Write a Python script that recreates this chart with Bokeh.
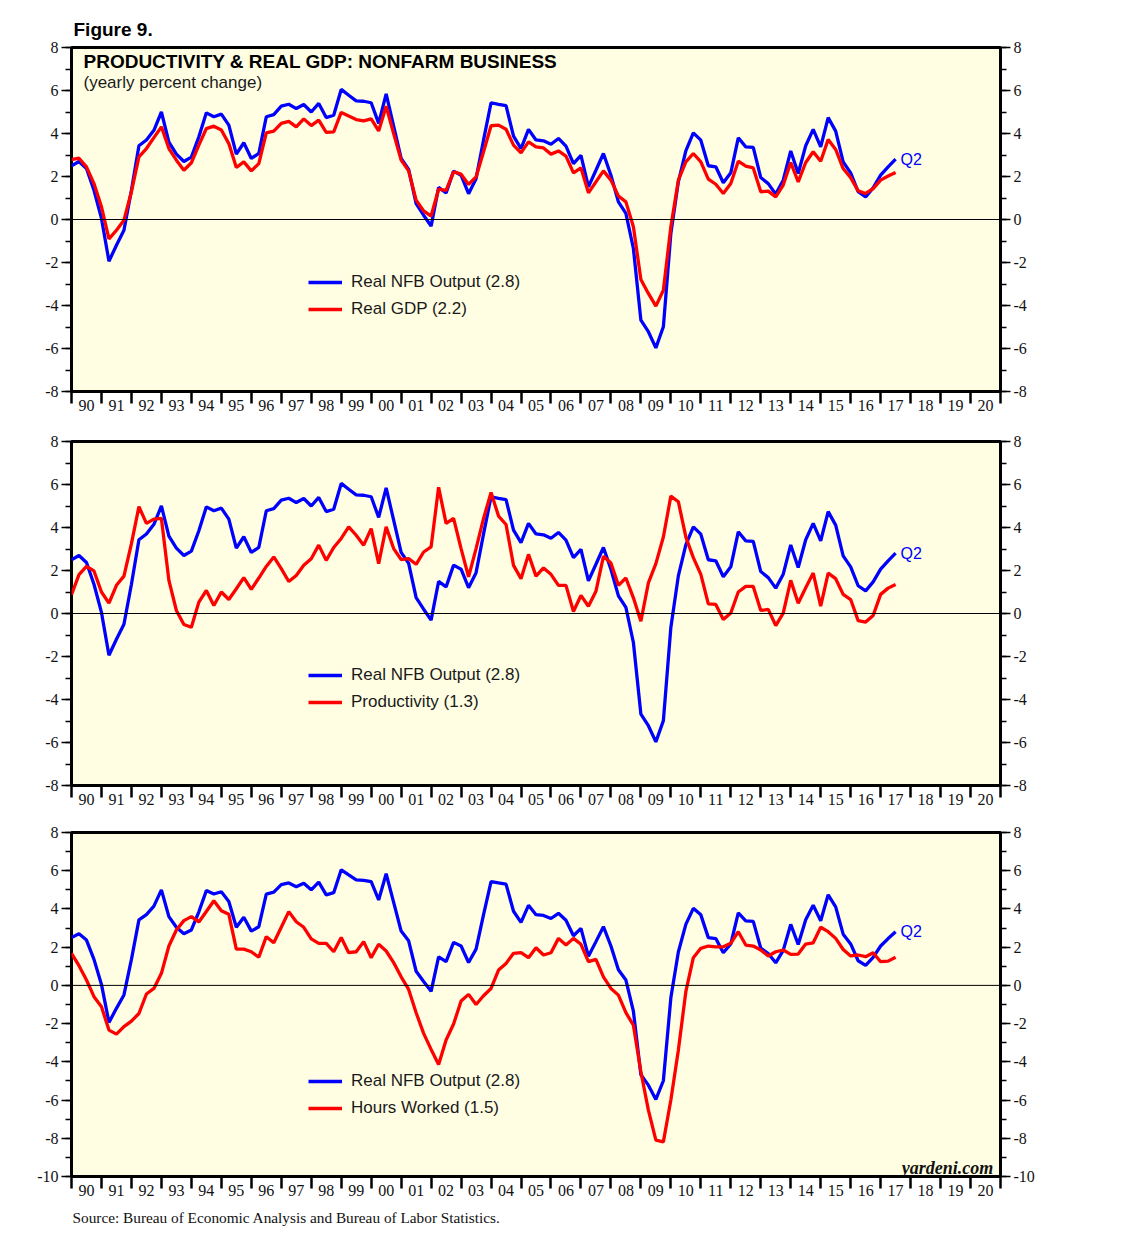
import pandas as pd
from bokeh.plotting import figure
from bokeh.models import (ColumnDataSource, FixedTicker, LinearAxis, Range1d, Span,
                          Label, Legend, LegendItem, Title, CustomJSTickFormatter)
from bokeh.layouts import column
from bokeh.embed import file_html
from bokeh.resources import INLINE

# Quarterly data, 1989Q4 .. 2017Q2 (yearly percent change)
quarters = pd.period_range("1989Q4", "2017Q2", freq="Q")

nfb_output = [2.5, 2.7, 2.37, 1.36, 0.05, -1.94, -1.2, -0.5, 1.36, 3.43,
              3.7, 4.15, 5.0, 3.6, 3.04, 2.7, 2.9, 3.85, 4.96, 4.78,
              4.9, 4.39, 3.04, 3.57, 2.84, 3.07, 4.78, 4.88, 5.27, 5.36,
              5.16, 5.35, 5.0, 5.4, 4.74, 4.85, 6.05, 5.78, 5.52, 5.5,
              5.43, 4.47, 5.84, 4.34, 2.84, 2.33, 0.74, 0.2, -0.31, 1.49,
              1.24, 2.25, 2.06, 1.2, 1.9, 3.7, 5.43, 5.36, 5.3, 3.88,
              3.3, 4.19, 3.7, 3.66, 3.5, 3.77, 3.41, 2.6, 2.98, 1.52,
              2.29, 3.07, 2.06, 0.82, 0.28, -1.35, -4.68, -5.22, -5.97, -4.99,
              -0.65, 1.75, 3.19, 4.03, 3.69, 2.5, 2.45, 1.71, 2.17, 3.8,
              3.38, 3.35, 1.95, 1.67, 1.18, 1.83, 3.19, 2.14, 3.43, 4.19,
              3.38, 4.74, 4.11, 2.68, 2.17, 1.29, 1.05, 1.47, 2.06, 2.45,
              2.81]

real_gdp = [2.79, 2.85, 2.45, 1.67, 0.59, -0.9, -0.5, -0.03, 1.29, 2.91,
            3.3, 3.81, 4.31, 3.3, 2.76, 2.29, 2.64, 3.46, 4.23, 4.34,
            4.16, 3.53, 2.42, 2.68, 2.26, 2.6, 4.03, 4.11, 4.47, 4.56,
            4.31, 4.68, 4.37, 4.62, 4.05, 4.08, 4.98, 4.81, 4.65, 4.59,
            4.68, 4.12, 5.27, 4.0, 2.76, 2.26, 0.9, 0.4, 0.16, 1.41,
            1.36, 2.22, 2.11, 1.63, 1.98, 3.15, 4.36, 4.39, 4.2, 3.46,
            3.1, 3.61, 3.38, 3.33, 3.04, 3.19, 2.95, 2.17, 2.4, 1.24,
            1.75, 2.26, 1.83, 1.09, 0.82, -0.34, -2.79, -3.44, -4.03, -3.29,
            -0.34, 1.83, 2.68, 3.07, 2.68, 1.88, 1.64, 1.21, 1.67, 2.71,
            2.48, 2.4, 1.29, 1.32, 1.05, 1.6, 2.65, 1.75, 2.65, 3.15,
            2.71, 3.72, 3.26, 2.37, 1.95, 1.33, 1.21, 1.44, 1.83, 2.02,
            2.19]

productivity = [0.87, 1.81, 2.19, 1.98, 1.0, 0.48, 1.31, 1.74, 3.25, 4.97,
                4.19, 4.39, 4.42, 1.54, 0.14, -0.51, -0.64, 0.53, 1.07, 0.37,
                1.0, 0.65, 1.15, 1.67, 1.12, 1.65, 2.19, 2.63, 2.09, 1.49,
                1.77, 2.24, 2.55, 3.18, 2.47, 3.07, 3.49, 4.03, 3.64, 3.18,
                3.95, 2.32, 4.03, 3.02, 2.51, 2.55, 2.29, 2.86, 3.1, 5.87,
                4.19, 4.42, 3.02, 1.7, 3.02, 4.42, 5.63, 4.53, 4.14, 2.24,
                1.62, 2.75, 1.74, 2.12, 1.82, 1.31, 1.31, 0.09, 0.84, 0.34,
                1.03, 2.66, 2.35, 1.31, 1.65, 0.73, -0.36, 1.42, 2.32, 3.56,
                5.46, 5.2, 3.56, 2.6, 1.82, 0.45, 0.42, -0.28, 0.02, 1.0,
                1.26, 1.26, 0.14, 0.19, -0.56, 0.02, 1.54, 0.48, 1.2, 1.88,
                0.34, 1.88, 1.62, 0.89, 0.65, -0.33, -0.4, -0.09, 0.89, 1.18,
                1.35]

hours_worked = [1.68, 1.03, 0.28, -0.59, -1.12, -2.34, -2.55, -2.16, -1.87, -1.47,
                -0.45, -0.16, 0.63, 2.06, 2.9, 3.39, 3.6, 3.32, 3.87, 4.43,
                3.91, 3.72, 1.9, 1.9, 1.76, 1.47, 2.55, 2.23, 3.04, 3.86,
                3.33, 3.04, 2.43, 2.2, 2.2, 1.76, 2.51, 1.71, 1.76, 2.29,
                1.45, 2.15, 1.8, 1.19, 0.45, -0.21, -1.43, -2.51, -3.35, -4.14,
                -2.86, -2.02, -0.82, -0.47, -1.0, -0.54, -0.16, 0.8, 1.15, 1.68,
                1.71, 1.45, 1.97, 1.59, 1.71, 2.46, 2.11, 2.46, 2.15, 1.24,
                1.36, 0.45, -0.16, -0.51, -1.43, -2.08, -4.52, -6.53, -8.1, -8.19,
                -6.0, -3.39, -0.33, 1.45, 1.94, 2.06, 2.02, 2.02, 2.2, 2.81,
                2.11, 2.06, 1.85, 1.54, 1.76, 1.85, 1.62, 1.64, 2.16, 2.23,
                3.04, 2.81, 2.46, 1.88, 1.54, 1.59, 1.5, 1.71, 1.24, 1.27,
                1.47]

year_start, year_end = 1990, 2021
legend_blue = "Real NFB Output (2.8)"
red_names = ["Real GDP (2.2)", "Productivity (1.3)", "Hours Worked (1.5)"]

# quarter-end positions in fractional years
xq = [p.year + p.quarter / 4 for p in quarters]

BG = "#FFFEE2"
BLUE = "#0000FF"
RED = "#FF0000"
SERIF = "Liberation Serif"
SANS = "Liberation Sans"

FRAME_H = 344
BL, BR = 71, 40
WIDTH = BL + 929 + BR


def make_panel(red, red_name, ymin, btop, bbottom, legend_y):
    p = figure(width=WIDTH, height=btop + FRAME_H + bbottom,
               x_range=Range1d(year_start, year_end), y_range=Range1d(ymin, 8),
               output_backend="svg", toolbar_location=None,
               x_axis_type=None, y_axis_type=None,
               min_border_left=BL, min_border_right=BR,
               min_border_top=btop, min_border_bottom=bbottom,
               background_fill_color=BG, border_fill_color="white",
               outline_line_color="black", outline_line_width=3)

    yt = FixedTicker(ticks=list(range(ymin, 9, 2)), minor_ticks=list(range(ymin, 9)))
    for side in ("left", "right"):
        ax = LinearAxis(ticker=yt, axis_line_color=None,
                        major_tick_in=0, major_tick_out=10,
                        minor_tick_in=0, minor_tick_out=6,
                        major_tick_line_width=1.5, minor_tick_line_width=1.5,
                        major_label_standoff=3,
                        major_label_text_font=SERIF,
                        major_label_text_font_size="16px",
                        major_label_text_color="#111111",
                        formatter=CustomJSTickFormatter(code="return String(tick);"))
        p.add_layout(ax, side)

    xt = FixedTicker(ticks=[y + 0.5 for y in range(year_start, year_end)],
                     minor_ticks=list(range(year_start, year_end + 1)))
    xa = LinearAxis(ticker=xt, axis_line_color=None,
                    major_tick_in=0, major_tick_out=0, major_tick_line_color=None,
                    minor_tick_in=0, minor_tick_out=12, minor_tick_line_width=2.5,
                    major_label_standoff=-4,
                    major_label_text_font=SERIF,
                    major_label_text_font_size="16px",
                    major_label_text_color="#111111",
                    formatter=CustomJSTickFormatter(
                        code="return String(Math.floor(tick) % 100).padStart(2, '0');"))
    p.add_layout(xa, "below")

    p.add_layout(Span(location=0, dimension="width", line_color="black", line_width=1))

    src = ColumnDataSource(dict(x=xq, nfb=nfb_output, red=red))
    rb = p.line("x", "nfb", source=src, line_color=BLUE, line_width=3.3)
    rr = p.line("x", "red", source=src, line_color=RED, line_width=3.3)

    leg = Legend(items=[LegendItem(label=legend_blue, renderers=[rb]),
                        LegendItem(label=red_name, renderers=[rr])],
                 location=(237, legend_y), background_fill_alpha=0,
                 border_line_color=None, padding=0, margin=0, spacing=7,
                 glyph_width=34, glyph_height=20, label_height=20,
                 label_standoff=9, label_text_font=SANS,
                 label_text_font_size="17px", label_text_color="#1a1a1a")
    p.add_layout(leg)

    p.add_layout(Label(x=xq[-1], y=nfb_output[-1], text="Q2", x_offset=5,
                       text_baseline="middle", text_color=BLUE,
                       text_font=SANS, text_font_size="16px"))
    return p


p1 = make_panel(real_gdp, red_names[0], -8, 47, 34, 72)
p1.title = Title(text="Figure 9.", align="left", offset=2, standoff=16,
                 text_font=SANS, text_font_size="19px", text_font_style="bold",
                 text_color="black")
p1.add_layout(Label(x=1990.4, y=7.35, text="PRODUCTIVITY & REAL GDP: NONFARM BUSINESS",
                    text_baseline="middle", text_font=SANS, text_font_size="19px",
                    text_font_style="bold", text_color="black"))
p1.add_layout(Label(x=1990.4, y=6.37, text="(yearly percent change)",
                    text_baseline="middle", text_font=SANS, text_font_size="17px",
                    text_color="#1a1a1a"))

p2 = make_panel(productivity, red_names[1], -8, 16, 34, 73)

p3 = make_panel(hours_worked, red_names[2], -10, 13, 59, 58)
p3.add_layout(Label(x=2020.76, y=-9.55, text="yardeni.com", text_align="right",
                    text_baseline="alphabetic", text_font=SERIF, text_font_size="18px",
                    text_font_style="bold italic", text_color="#111111"))
p3.add_layout(Title(text="Source: Bureau of Economic Analysis and Bureau of Labor Statistics.",
                    align="left", offset=1, standoff=17, text_font=SERIF, text_font_size="15.3px",
                    text_font_style="normal", text_color="#111111"), "below")

layout = column(p1, p2, p3, spacing=0)
open("out.html", "w").write(file_html(layout, INLINE))
